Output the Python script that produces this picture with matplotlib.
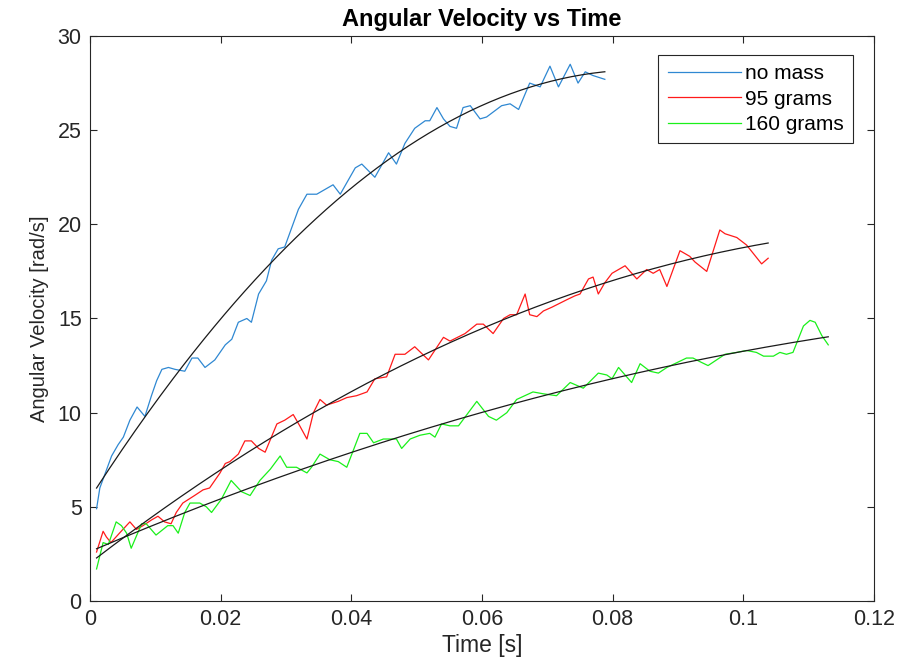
import numpy as np
import matplotlib
matplotlib.use('Agg')
import matplotlib.pyplot as plt

plt.rcParams['font.family'] = ['Liberation Sans', 'DejaVu Sans']

# no mass
t_blue = [0.0010, 0.0015, 0.0033, 0.0043, 0.0051, 0.0061, 0.0072, 0.0084, 0.0094, 0.0102,
          0.0110, 0.0120, 0.0130, 0.0145, 0.0156, 0.0165, 0.0176, 0.0191, 0.0207, 0.0217,
          0.0227, 0.0240, 0.0247, 0.0258, 0.0270, 0.0278, 0.0288, 0.0298, 0.0319, 0.0332,
          0.0347, 0.0372, 0.0383, 0.0406, 0.0416, 0.0436, 0.0457, 0.0469, 0.0482, 0.0497,
          0.0513, 0.0520, 0.0531, 0.0541, 0.0551, 0.0561, 0.0571, 0.0582, 0.0597, 0.0607,
          0.0630, 0.0643, 0.0656, 0.0673, 0.0689, 0.0704, 0.0717, 0.0735, 0.0747, 0.0758,
          0.0770, 0.0788]
w_blue = [4.9, 6.0, 7.7, 8.3, 8.7, 9.6, 10.3, 9.8, 10.9, 11.7,
          12.3, 12.4, 12.3, 12.2, 12.9, 12.9, 12.4, 12.8, 13.6, 13.9,
          14.8, 15.0, 14.8, 16.3, 17.0, 18.1, 18.7, 18.8, 20.8, 21.6,
          21.6, 22.1, 21.6, 23.0, 23.2, 22.5, 23.8, 23.2, 24.3, 25.1,
          25.5, 25.5, 26.2, 25.6, 25.2, 25.1, 26.2, 26.3, 25.6, 25.7,
          26.3, 26.4, 26.1, 27.5, 27.3, 28.4, 27.3, 28.5, 27.5, 28.1,
          27.9, 27.7]

# 95 grams
t_red = [0.0010, 0.0020, 0.0025, 0.0032, 0.0045, 0.0061, 0.0071, 0.0081, 0.0094, 0.0104,
         0.0114, 0.0124, 0.0132, 0.0142, 0.0151, 0.0160, 0.0173, 0.0183, 0.0191, 0.0199,
         0.0207, 0.0214, 0.0227, 0.0237, 0.0247, 0.0258, 0.0268, 0.0286, 0.0298, 0.0311,
         0.0321, 0.0332, 0.0342, 0.0352, 0.0362, 0.0380, 0.0393, 0.0408, 0.0424, 0.0436,
         0.0454, 0.0467, 0.0482, 0.0497, 0.0518, 0.0541, 0.0551, 0.0574, 0.0592, 0.0602,
         0.0617, 0.0633, 0.0643, 0.0653, 0.0666, 0.0673, 0.0684, 0.0694, 0.0707, 0.0730,
         0.0742, 0.0750, 0.0763, 0.0770, 0.0778, 0.0788, 0.0799, 0.0804, 0.0819, 0.0837,
         0.0852, 0.0862, 0.0872, 0.0883, 0.0903, 0.0918, 0.0926, 0.0944, 0.0964, 0.0972,
         0.0990, 0.1005, 0.1028, 0.1038]
w_red = [2.6, 3.7, 3.4, 3.1, 3.6, 4.2, 3.8, 4.0, 4.3, 4.5,
         4.2, 4.1, 4.7, 5.2, 5.4, 5.6, 5.9, 6.0, 6.4, 6.8,
         7.3, 7.4, 7.8, 8.5, 8.5, 8.1, 7.9, 9.4, 9.6, 9.9,
         9.3, 8.6, 10.0, 10.7, 10.4, 10.6, 10.8, 10.9, 11.1, 11.8,
         11.9, 13.1, 13.1, 13.5, 12.8, 14.0, 13.8, 14.2, 14.7, 14.7,
         14.2, 15.0, 15.2, 15.2, 16.3, 15.2, 15.1, 15.4, 15.6, 16.0,
         16.2, 16.3, 17.1, 17.2, 16.3, 16.9, 17.4, 17.5, 17.8, 17.1,
         17.6, 17.4, 17.6, 16.7, 18.6, 18.3, 18.0, 17.5, 19.7, 19.5,
         19.3, 18.9, 17.9, 18.2]

# 160 grams
t_green = [0.0010, 0.0020, 0.0028, 0.0040, 0.0048, 0.0056, 0.0063, 0.0079, 0.0086, 0.0101,
           0.0119, 0.0127, 0.0135, 0.0145, 0.0153, 0.0168, 0.0178, 0.0186, 0.0201, 0.0216,
           0.0232, 0.0245, 0.0260, 0.0276, 0.0291, 0.0301, 0.0316, 0.0332, 0.0339, 0.0352,
           0.0367, 0.0380, 0.0393, 0.0413, 0.0424, 0.0434, 0.0449, 0.0459, 0.0469, 0.0477,
           0.0490, 0.0505, 0.0520, 0.0528, 0.0538, 0.0551, 0.0564, 0.0592, 0.0610, 0.0622,
           0.0638, 0.0653, 0.0678, 0.0694, 0.0714, 0.0735, 0.0755, 0.0778, 0.0791, 0.0799,
           0.0809, 0.0829, 0.0842, 0.0857, 0.0870, 0.0883, 0.0913, 0.0923, 0.0934, 0.0946,
           0.0959, 0.0972, 0.0990, 0.1005, 0.1020, 0.1031, 0.1046, 0.1056, 0.1066, 0.1076,
           0.1084, 0.1092, 0.1102, 0.1110, 0.1120, 0.1130]
w_green = [1.7, 3.1, 3.0, 4.2, 4.0, 3.6, 2.8, 4.1, 4.1, 3.5,
           4.0, 4.0, 3.6, 4.7, 5.2, 5.2, 5.0, 4.7, 5.4, 6.4,
           5.8, 5.6, 6.4, 7.0, 7.7, 7.1, 7.1, 6.8, 7.1, 7.8,
           7.5, 7.4, 7.1, 8.9, 8.9, 8.4, 8.6, 8.6, 8.6, 8.1,
           8.6, 8.8, 8.9, 8.7, 9.4, 9.3, 9.3, 10.6, 9.8, 9.6,
           10.0, 10.7, 11.1, 11.0, 10.9, 11.6, 11.3, 12.1, 12.0, 11.8,
           12.4, 11.6, 12.6, 12.2, 12.1, 12.4, 12.9, 12.9, 12.7, 12.5,
           12.8, 13.1, 13.2, 13.3, 13.2, 13.0, 13.0, 13.2, 13.1, 13.2,
           13.9, 14.6, 14.9, 14.8, 14.1, 13.6]

labels = ['no mass', '95 grams', '160 grams']
colors = ['#2F88D2', '#FF1A1A', '#1AF01A']

fig = plt.figure(figsize=(9.04, 6.72), dpi=100)
ax = fig.add_axes([0.0996, 0.1057, 0.8672, 0.8407])

series = [(t_blue, w_blue), (t_red, w_red), (t_green, w_green)]
for (t, w), lab, c in zip(series, labels, colors):
    ax.plot(t, w, color=c, lw=0.9, label=lab)

# quadratic fits
for t, w in series:
    p = np.polyfit(t, w, 2)
    tt = np.linspace(min(t), max(t), 200)
    ax.plot(tt, np.polyval(p, tt), color='#1a1a1a', lw=0.9)

ax.set_xlim(0, 0.12)
ax.set_ylim(0, 30)
ax.set_xticks([0, 0.02, 0.04, 0.06, 0.08, 0.1, 0.12])
ax.set_xticklabels(['0', '0.02', '0.04', '0.06', '0.08', '0.1', '0.12'])
ax.set_yticks(range(0, 31, 5))
ax.tick_params(direction='in', top=True, right=True, labelsize=15.5, colors='#262626',
               length=5, width=0.8, pad=6)
for s in ax.spines.values():
    s.set_color('#262626')
    s.set_linewidth(0.8)

ax.set_title('Angular Velocity vs Time', fontsize=17, fontweight='bold', pad=7)
ax.set_xlabel('Time [s]', fontsize=16.5, color='#262626', labelpad=3)
ax.set_ylabel('Angular Velocity [rad/s]', fontsize=14.5, color='#262626', labelpad=6)

leg = ax.legend(loc='upper right', bbox_to_anchor=(0.9732, 0.9664), fontsize=15,
                fancybox=False, framealpha=1, edgecolor='#262626',
                handlelength=3.5, handletextpad=0.2, borderpad=0.45, labelspacing=0.3,
                borderaxespad=0)
leg.get_frame().set_linewidth(0.8)

fig.savefig('out.png', dpi=100)
